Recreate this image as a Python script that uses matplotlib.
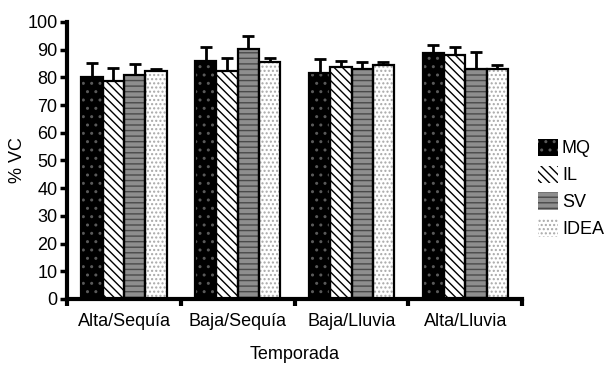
import matplotlib
matplotlib.use("Agg")
import matplotlib.pyplot as plt
import numpy as np
from matplotlib.patches import Patch
from matplotlib import font_manager

fams = [f.name for f in font_manager.fontManager.ttflist]
fam = "Liberation Sans Narrow" if "Liberation Sans Narrow" in fams else "Liberation Sans"
plt.rcParams['font.family'] = [fam, 'DejaVu Sans']
plt.rcParams['hatch.linewidth'] = 1.0

categories = ["Alta/Sequía", "Baja/Sequía", "Baja/Lluvia", "Alta/Lluvia"]
series = ["MQ", "IL", "SV", "IDEA"]
values = {
    "MQ":   [80.0, 86.0, 81.7, 88.9],
    "IL":   [78.5, 82.4, 83.9, 88.0],
    "SV":   [80.9, 90.1, 83.0, 83.0],
    "IDEA": [82.3, 85.6, 84.5, 83.0],
}
errors = {
    "MQ":   [5.3, 5.0, 5.0, 2.7],
    "IL":   [5.0, 4.5, 2.0, 3.0],
    "SV":   [4.0, 4.8, 2.5, 6.0],
    "IDEA": [0.6, 1.4, 1.0, 1.5],
}
yticks = list(range(0, 101, 10))

styles = {
    "MQ":   dict(facecolor="black", hatch="..", hatchcolor="#5a5a5a"),
    "IL":   dict(facecolor="white", hatch="\\\\\\\\", hatchcolor="black"),
    "SV":   dict(facecolor="#8e8e8e", hatch="---", hatchcolor="#4a4a4a"),
    "IDEA": dict(facecolor="white", hatch="....", hatchcolor="#a8a8a8"),
}

fig = plt.figure(figsize=(6.05, 3.65), dpi=100)
ax = fig.add_axes([0.111, 0.181, 0.752, 0.759])

n = len(series)
width = 0.75 / n
x = np.arange(len(categories))
for i, s in enumerate(series):
    pos = x - 0.375 + width * (i + 0.5)
    st = styles[s]
    ax.bar(pos, values[s], width=width, facecolor=st["facecolor"],
           edgecolor=st["hatchcolor"], linewidth=0, hatch=st["hatch"], zorder=2)
    ax.bar(pos, values[s], width=width, fill=False,
           edgecolor="black", linewidth=1.6, zorder=3)
    ax.errorbar(pos, values[s], yerr=[np.zeros(len(categories)), errors[s]],
                fmt="none", ecolor="black", elinewidth=2, capsize=4,
                capthick=2, zorder=1)

ax.set_xlim(-0.5, len(categories) - 0.5)
ax.set_ylim(0, 100)
ax.set_yticks(yticks)
ax.set_xticks(x)
ax.set_xticklabels(categories, fontsize=13)
ax.tick_params(axis="x", which="major", length=0, pad=10)
ax.set_xticks(np.arange(len(categories) + 1) - 0.5, minor=True)
ax.tick_params(axis="x", which="minor", length=5, width=3, direction="out")
ax.tick_params(axis="y", labelsize=13, length=5, width=2.5, direction="out", pad=2)

for sp in ["top", "right"]:
    ax.spines[sp].set_visible(False)
for sp in ["left", "bottom"]:
    ax.spines[sp].set_linewidth(3)

ax.set_ylabel("% VC", fontsize=13, labelpad=1)
ax.set_xlabel("Temporada", fontsize=13, labelpad=12)

handles = []
for s in series:
    st = styles[s]
    handles.append(Patch(facecolor=st["facecolor"], edgecolor=st["hatchcolor"],
                         linewidth=0, hatch=st["hatch"], label=s))
leg = fig.legend(handles=handles, loc="upper left", bbox_to_anchor=(0.875, 0.645),
                 frameon=False, fontsize=13, handlelength=1.1, handleheight=1.1,
                 handletextpad=0.2, labelspacing=0.45, borderpad=0)

fig.savefig("out.png", dpi=100)
